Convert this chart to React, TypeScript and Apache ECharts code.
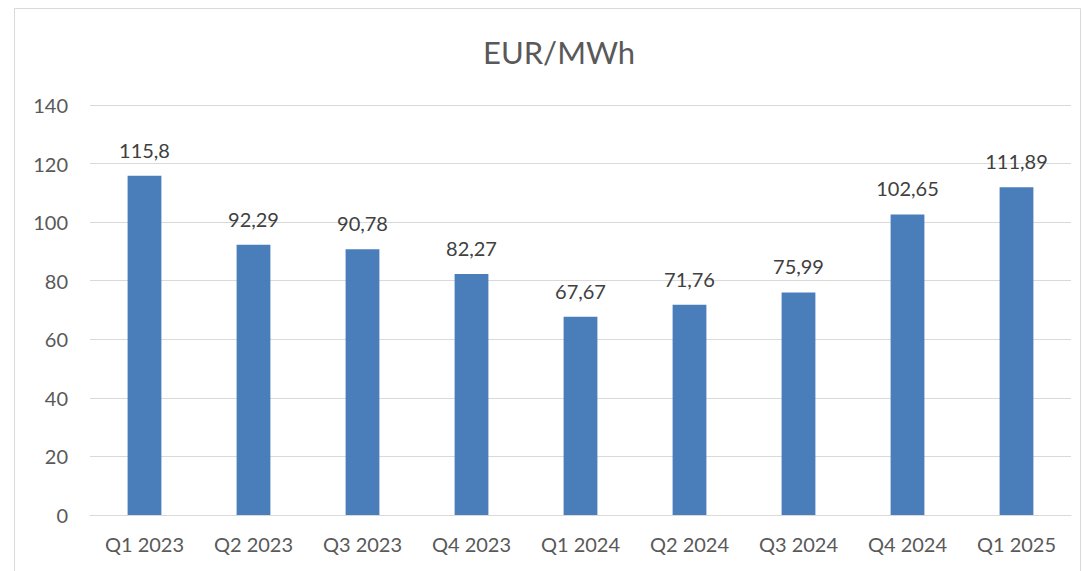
import React, { useEffect, useRef } from "react";
import * as echarts from "echarts";

const categories = ["Q1 2023", "Q2 2023", "Q3 2023", "Q4 2023", "Q1 2024", "Q2 2024", "Q3 2024", "Q4 2024", "Q1 2025"];
const values = [115.8, 92.29, 90.78, 82.27, 67.67, 71.76, 75.99, 102.65, 111.89];
const title = "EUR/MWh";

export default function App() {
  const ref = useRef<HTMLDivElement>(null);
  useEffect(() => {
    if (!ref.current) return;
    const chart = echarts.init(ref.current, null, { renderer: "svg" });
    const font = "Lato, 'Noto Sans', sans-serif";
    chart.setOption({
      animation: false,
      backgroundColor: "#ffffff",
      textStyle: { fontFamily: font },
      title: {
        text: title,
        left: 478,
        top: 31,
        textStyle: { fontFamily: font, fontSize: 31, fontWeight: "normal", color: "#595959" },
      },
      graphic: [
        {
          type: "rect",
          shape: { x: 14.5, y: 8.5, width: 1066, height: 600 },
          style: { fill: "none", stroke: "#d9d9d9", lineWidth: 1 },
          silent: true,
        },
      ],
      grid: { left: 90, right: 11, top: 105, bottom: 56 },
      xAxis: {
        type: "category",
        data: categories,
        axisTick: { show: false },
        axisLine: { lineStyle: { color: "#d9d9d9", width: 1 } },
        axisLabel: { fontFamily: font, fontSize: 20, color: "#595959", margin: 19 },
      },
      yAxis: {
        type: "value",
        min: 0,
        max: 140,
        interval: 20,
        axisLine: { show: false },
        axisTick: { show: false },
        splitLine: { lineStyle: { color: "#d9d9d9", width: 1 } },
        axisLabel: { fontFamily: font, fontSize: 20, color: "#595959", margin: 22 },
      },
      series: [
        {
          type: "bar",
          data: values,
          barWidth: "31%",
          itemStyle: { color: "#4a7ebb" },
          label: {
            show: true,
            position: "top",
            distance: 16,
            fontFamily: font,
            fontSize: 20,
            color: "#404040",
            formatter: (p: any) => String(p.value).replace(".", ","),
          },
        },
      ],
    });
    return () => chart.dispose();
  }, []);
  return <div ref={ref} style={{ position: "fixed", left: 0, top: 0, width: 1082, height: 571 }} />;
}
